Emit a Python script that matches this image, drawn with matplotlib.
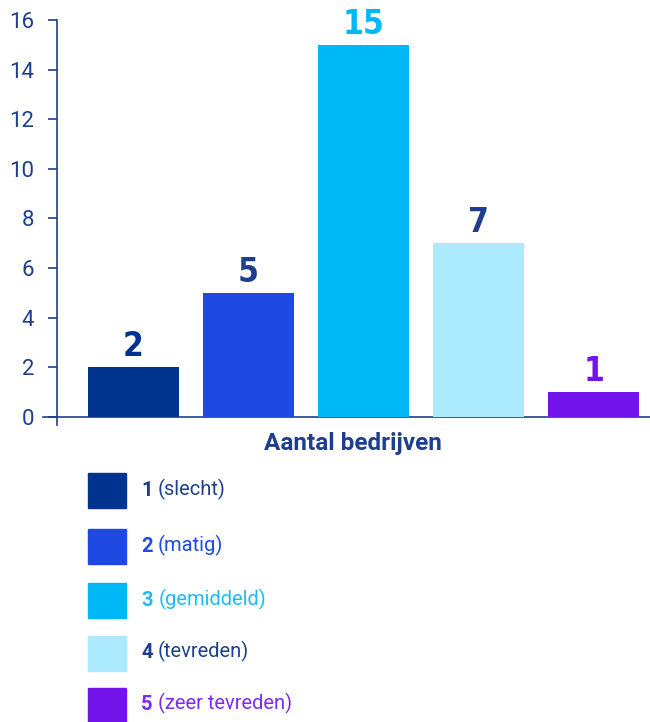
import matplotlib
matplotlib.use("Agg")
import matplotlib.pyplot as plt
import matplotlib.patches as mpatches
from matplotlib import font_manager

# Tevredenheidsscores en aantal bedrijven per score
scores = ["1", "2", "3", "4", "5"]
omschrijving = ["(slecht)", "(matig)", "(gemiddeld)", "(tevreden)", "(zeer tevreden)"]
aantal = [2, 5, 15, 7, 1]

bar_colors = ["#00338D", "#1E49E2", "#00B8F5", "#ACEAFF", "#7213EA"]
label_colors = ["#00338D", "#1E3F8F", "#00B8F5", "#1E3F8F", "#7213EA"]
legend_colors = ["#1E3F8F", "#1E49E2", "#1EBCF3", "#1E3F8F", "#7D2AEC"]
NAVY = "#1E3F8F"

plt.rcParams["font.family"] = ["Roboto", "DejaVu Sans"]


def smalste_font():
    # smal vet lettertype voor de waarden boven de staven
    for fam in ["Liberation Sans Narrow", "DejaVu Sans Condensed"]:
        try:
            font_manager.findfont(font_manager.FontProperties(family=fam, weight="bold"),
                                  fallback_to_default=False)
            return fam
        except ValueError:
            continue
    return "DejaVu Sans"


WAARDE_FONT = smalste_font()

fig = plt.figure(figsize=(6.5, 7.22), dpi=100)
ax = fig.add_axes([0.0662, 0.4114, 0.9338, 0.561])

x = list(range(len(aantal)))
ax.bar(x, aantal, width=0.79, color=bar_colors, zorder=3)

for xi, val, col in zip(x, aantal, label_colors):
    ax.annotate(f"{val}", xy=(xi, val), xytext=(0, 3), textcoords="offset points",
                ha="center", va="bottom", fontsize=24, fontweight="bold",
                family=WAARDE_FONT, fontstretch="condensed", color=col)

ax.set_xlim(-0.787, 4.49)
ax.set_ylim(-0.33, 16)
ax.set_yticks(range(0, 17, 2))
ax.set_xticks([])

for s in ["top", "right"]:
    ax.spines[s].set_visible(False)
ax.spines["left"].set_position(("data", -0.665))
ax.spines["bottom"].set_position(("data", 0))
for s in ["left", "bottom"]:
    ax.spines[s].set_color(NAVY)
    ax.spines[s].set_linewidth(1.2)
ax.tick_params(axis="y", direction="out", length=6.5, width=1.2, color=NAVY,
               labelcolor=NAVY, labelsize=16, pad=10)

fig.text(0.5435, 0.386, "Aantal bedrijven", ha="center", va="center",
         fontsize=17.5, fontweight="bold", color=NAVY)

# Legenda handmatig opgebouwd: gekleurd vierkant, vet cijfer, omschrijving
row_y = [491, 546, 600, 653, 705]
for sc, oms, bc, tc, yp in zip(scores, omschrijving, bar_colors, legend_colors, row_y):
    yf = 1 - yp / 722
    fig.add_artist(mpatches.Rectangle((88 / 650, yf - 17.5 / 722), 38 / 650, 35 / 722,
                                      transform=fig.transFigure, color=bc))
    t1 = fig.text(141 / 650, yf, sc, ha="left", va="center", fontsize=14.5,
                  fontweight="bold", color=tc)
    ax.annotate(oms, xy=(1, 0), xycoords=t1, xytext=(4, 0),
                textcoords="offset points", ha="left", va="bottom",
                fontsize=14.5, color=tc, annotation_clip=False)

fig.savefig("out.png", dpi=100, facecolor="white")
